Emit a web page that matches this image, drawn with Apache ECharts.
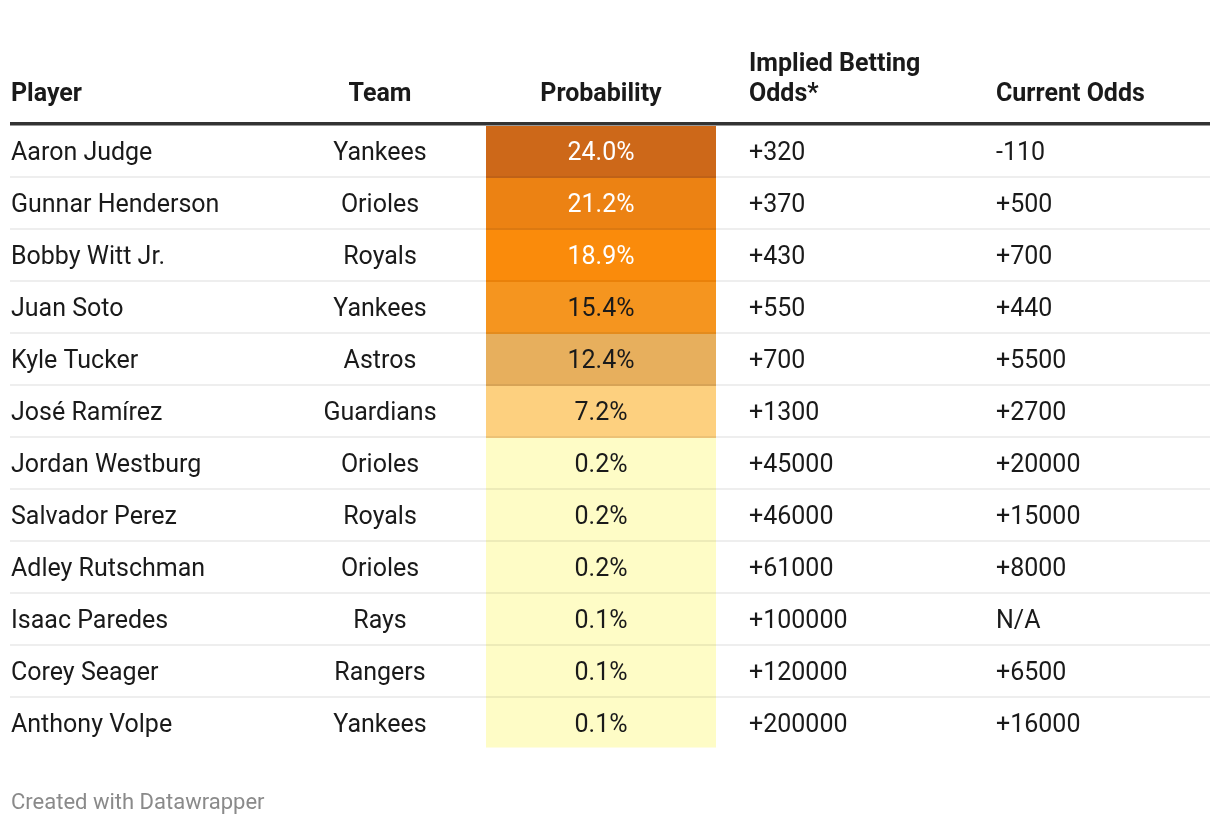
<!DOCTYPE html>
<html><head><meta charset="utf-8">
<script src="https://cdn.jsdelivr.net/npm/echarts@6/dist/echarts.min.js"></script>
<style>html,body{margin:0;padding:0;background:#fff}#chart{width:1220px;height:824px}</style>
</head><body><div id="chart"></div>
<script>
// ---- data ----
const headers = ['Player', 'Team', 'Probability', 'Implied Betting\nOdds*', 'Current Odds'];
const players = ['Aaron Judge', 'Gunnar Henderson', 'Bobby Witt Jr.', 'Juan Soto', 'Kyle Tucker', 'José Ramírez',
  'Jordan Westburg', 'Salvador Perez', 'Adley Rutschman', 'Isaac Paredes', 'Corey Seager', 'Anthony Volpe'];
const teams = ['Yankees', 'Orioles', 'Royals', 'Yankees', 'Astros', 'Guardians',
  'Orioles', 'Royals', 'Orioles', 'Rays', 'Rangers', 'Yankees'];
const probability = [24.0, 21.2, 18.9, 15.4, 12.4, 7.2, 0.2, 0.2, 0.2, 0.1, 0.1, 0.1];
const impliedOdds = ['+320', '+370', '+430', '+550', '+700', '+1300', '+45000', '+46000', '+61000', '+100000', '+120000', '+200000'];
const currentOdds = ['-110', '+500', '+700', '+440', '+5500', '+2700', '+20000', '+15000', '+8000', 'N/A', '+6500', '+16000'];
const footer = 'Created with Datawrapper';

// ---- styles / layout ----
const FONT = 'Roboto, "Noto Sans", sans-serif';
const TEXT = '#1a1a1a';
const BODY_SIZE = 25;
const HEAD_SIZE = 25;
// column anchors in x-axis units (0..1200)
const COL = { player: 1, team: 370, probLeft: 476, probRight: 706, probMid: 591, implied: 739, current: 986 };
const colorStops = [[0, '#fefcc6'], [5, '#fdd07f'], [10, '#e7af5d'], [14, '#f5951f'], [17, '#fa8b0b'], [20, '#ec8213'], [23, '#cd6819']];
function cellColor(v) {
  let c = colorStops[0][1];
  for (const s of colorStops) if (v >= s[0]) c = s[1];
  return c;
}

const chart = echarts.init(document.getElementById('chart'), null, { renderer: 'canvas' });

function txt(x, y, text, align, fill) {
  return { type: 'text', x: x, y: y, style: { text: text, fill: fill || TEXT, font: BODY_SIZE + 'px ' + FONT, align: align, verticalAlign: 'middle' } };
}

function renderItem(params, api) {
  const i = api.value(0);
  const X = v => api.coord([v, i])[0];
  const yMid = api.coord([0, i])[1];
  const band = api.size([0, 1])[1];
  const top = yMid - band / 2;
  const last = i === players.length - 1;
  const children = [];
  const p = probability[i];
  children.push({ type: 'rect', shape: { x: X(COL.probLeft), y: top, width: X(COL.probRight) - X(COL.probLeft), height: last ? band - 2.5 : band }, style: { fill: cellColor(p) } });
  if (!last) {
    children.push({ type: 'rect', shape: { x: X(0), y: top + band - 2, width: X(1200) - X(0), height: 2 }, style: { fill: 'rgba(0,0,0,0.068)' } });
  }
  const ym = top + (band - 2) / 2 + 3;
  children.push(txt(X(COL.player), ym, players[i], 'left'));
  children.push(txt(X(COL.team), ym, teams[i], 'center'));
  children.push(txt(X(COL.probMid), ym, p.toFixed(1) + '%', 'center', p >= 17 ? '#ffffff' : TEXT));
  children.push(txt(X(COL.implied), ym, impliedOdds[i], 'left'));
  children.push(txt(X(COL.current), ym, currentOdds[i], 'left'));
  return { type: 'group', children: children };
}

const headAnchors = [[10 + COL.player, 'left'], [10 + COL.team, 'center'], [10 + COL.probMid, 'center'], [10 + COL.implied, 'left'], [10 + COL.current, 'left']];
const graphics = headers.map((h, k) => ({
  type: 'text', x: headAnchors[k][0], y: 110,
  style: { text: h, fill: TEXT, font: 'bold ' + HEAD_SIZE + 'px ' + FONT, align: headAnchors[k][1], verticalAlign: 'bottom', lineHeight: 30 }
}));
graphics.push({ type: 'rect', shape: { x: 10, y: 122, width: 1200, height: 3.5 }, style: { fill: '#333333' } });
graphics.push({ type: 'text', x: 11, y: 803, style: { text: footer, fill: '#8a8a8a', font: '22px ' + FONT, align: 'left', verticalAlign: 'middle' } });

chart.setOption({
  animation: false,
  backgroundColor: '#ffffff',
  grid: { left: 10, right: 10, top: 126, height: 624 },
  xAxis: { type: 'value', min: 0, max: 1200, show: false },
  yAxis: { type: 'category', data: players, inverse: true, show: false },
  graphic: graphics,
  series: [{
    type: 'custom',
    renderItem: renderItem,
    encode: { y: 0 },
    data: players.map((p, i) => [i])
  }]
});
</script>
</body></html>
